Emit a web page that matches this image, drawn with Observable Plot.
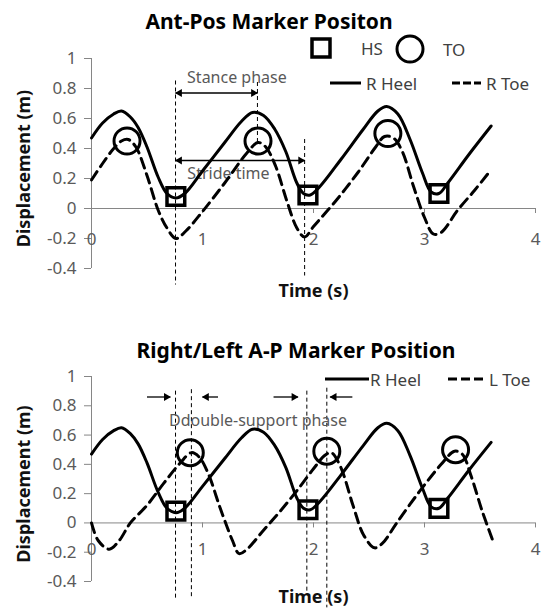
<!DOCTYPE html>
<html><head><meta charset="utf-8">
<script src="https://cdn.jsdelivr.net/npm/d3@7"></script>
<script src="https://cdn.jsdelivr.net/npm/@observablehq/plot@0.6"></script>
<style>
body{margin:0;background:#fff;font-family:"Noto Sans",sans-serif;}
#wrap{position:relative;width:542px;height:612px;overflow:hidden;background:#fff;}
.abs{position:absolute;}
.title{font-weight:bold;font-size:21px;color:#000;transform:translate(-50%,-50%);white-space:nowrap;}
.leg{font-size:17px;color:#404040;white-space:nowrap;transform:translateY(-50%);line-height:1;}
svg.plot{position:absolute;left:0;overflow:visible;}
</style></head><body><div id="wrap"></div>
<script>
// ---------- data ----------
const xTicks = [0, 1, 2, 3, 4];
const yTicks = [-0.4, -0.2, 0, 0.2, 0.4, 0.6, 0.8, 1];

// R Heel (same trace in both panels)
const heelT = [0, 0.1, 0.2, 0.27, 0.35, 0.42, 0.5, 0.6, 0.68, 0.76, 0.84, 1.0, 1.2, 1.35, 1.45, 1.55, 1.65, 1.75, 1.85, 1.91, 1.97, 2.05, 2.25, 2.45, 2.58, 2.66, 2.76, 2.87, 2.98, 3.06, 3.13, 3.21, 3.4, 3.6];
const heelY = [0.47, 0.57, 0.63, 0.65, 0.61, 0.54, 0.41, 0.21, 0.10, 0.07, 0.10, 0.25, 0.44, 0.58, 0.64, 0.62, 0.53, 0.38, 0.17, 0.10, 0.09, 0.14, 0.33, 0.53, 0.65, 0.68, 0.63, 0.46, 0.24, 0.11, 0.10, 0.17, 0.36, 0.55];

// R Toe (top panel)
const rToeT = [0, 0.1, 0.2, 0.27, 0.33, 0.4, 0.5, 0.6, 0.68, 0.76, 0.85, 1.0, 1.2, 1.4, 1.5, 1.57, 1.66, 1.76, 1.85, 1.92, 2.0, 2.2, 2.4, 2.56, 2.64, 2.72, 2.8, 2.9, 3.0, 3.08, 3.15, 3.3, 3.45, 3.58];
const rToeY = [0.19, 0.30, 0.40, 0.45, 0.46, 0.41, 0.22, -0.01, -0.13, -0.20, -0.15, -0.02, 0.17, 0.37, 0.44, 0.41, 0.28, 0.05, -0.13, -0.19, -0.12, 0.05, 0.24, 0.41, 0.48, 0.47, 0.38, 0.15, -0.06, -0.17, -0.16, -0.01, 0.12, 0.24];

// L Toe (bottom panel)
const lToeT = [0, 0.06, 0.16, 0.25, 0.35, 0.5, 0.65, 0.8, 0.9, 0.97, 1.05, 1.16, 1.27, 1.33, 1.4, 1.55, 1.7, 1.85, 2.0, 2.1, 2.16, 2.24, 2.36, 2.45, 2.55, 2.62, 2.75, 2.95, 3.15, 3.27, 3.34, 3.42, 3.52, 3.61];
const lToeY = [0, -0.12, -0.18, -0.12, 0, 0.12, 0.27, 0.41, 0.48, 0.45, 0.34, 0.10, -0.12, -0.21, -0.18, -0.05, 0.08, 0.22, 0.37, 0.46, 0.48, 0.39, 0.11, -0.08, -0.17, -0.14, 0, 0.21, 0.40, 0.49, 0.47, 0.32, 0.08, -0.11];

// Heel strike (HS) and toe off (TO) events
const hsT = [0.76, 1.95, 3.13];
const hsY = [0.08, 0.09, 0.10];
const toTopT = [0.32, 1.50, 2.67];
const toTopY = [0.45, 0.45, 0.50];
const toBotT = [0.89, 2.12, 3.28];
const toBotY = [0.48, 0.49, 0.50];

// dashed event lines
const evTopT = [0.757, 1.495, 1.92];
const evTopY1 = [0.85, 0.84, 0.46];
const evTopY2 = [-0.51, 0.42, -0.45];
const evBotT = [0.757, 0.90, 1.94, 2.12];
const evBotY1 = [0.90, 0.91, 0.90, 0.92];
const evBotY2 = [-0.52, -0.51, -0.49, -0.58];

// arrows
const arrTopFrom = [0.757, 0.757];
const arrTopTo = [1.495, 1.92];
const arrTopY = [0.77, 0.32];
const arrTopDouble = [true, true];
const arrBotFrom = [0.50, 1.14, 1.64, 2.35];
const arrBotTo = [0.71, 1.00, 1.86, 2.15];
const arrBotY = [0.86, 0.86, 0.86, 0.86];
const arrBotDouble = [false, false, false, false];

// annotation texts
const noteTop = ["Stance phase", "Stride time"];
const noteTopT = [1.31, 1.234];
const noteTopY = [0.87, 0.23];
const noteBot = ["Ddouble-support phase"];
const noteBotT = [1.5];
const noteBotY = [0.70];

// ---------- drawing ----------
const zip2 = (a, b) => a.map((t, i) => ({t, y: b[i]}));

function makePanel(o) {
  const heel = zip2(heelT, heelY);
  const toe = zip2(o.toeT, o.toeY);
  const hs = zip2(hsT, hsY);
  const to = zip2(o.toT, o.toY);
  const ev = o.evT.map((t, i) => ({t, y1: o.evY1[i], y2: o.evY2[i]}));
  const arrows = o.aFrom.map((f, i) => ({x1: f, x2: o.aTo[i], y: o.aY[i], dbl: o.aDbl[i]}));
  const heads = [];
  arrows.forEach(a => {
    const dir = Math.sign(a.x2 - a.x1);
    heads.push({t: a.x2, y: a.y, dir});
    if (a.dbl) heads.push({t: a.x1, y: a.y, dir: -dir});
  });
  const notes = o.notes.map((s, i) => ({s, t: o.noteT[i], y: o.noteY[i]}));
  const axisGrey = "#868686";
  return Plot.plot({
    width: 542, height: o.height,
    marginLeft: 91, marginRight: 7, marginTop: o.mt, marginBottom: o.mb,
    x: {domain: [0, 4], axis: null},
    y: {domain: [-0.4, 1], axis: null},
    style: {fontFamily: "Noto Sans", background: "transparent", overflow: "visible"},
    marks: [
      Plot.ruleX([0], {stroke: axisGrey, strokeWidth: 1}),
      Plot.ruleY([0], {stroke: axisGrey, strokeWidth: 1}),
      Plot.axisY(yTicks, {tickSize: 7, tickPadding: 8, tickFormat: d => String(d), fontSize: 17, fill: "#5a5a5a", stroke: axisGrey, label: null}),
      Plot.ruleX(xTicks.slice(1), {x: d => d, y1: 0, y2: 0, insetTop: 5, stroke: axisGrey}),
      Plot.text(xTicks, {x: d => d, y: 0, dy: o.xdy, text: d => String(d), fontSize: 17, fill: "#5a5a5a"}),
      Plot.text(["Displacement (m)"], {frameAnchor: "left", textAnchor: "middle", rotate: -90, dx: -67, dy: o.ldy, text: d => d, fontWeight: "bold", fontSize: 18, fill: "#111"}),
      Plot.text(["Time (s)"], {frameAnchor: "bottom", dy: o.tdy, text: d => d, fontWeight: "bold", fontSize: 18, fill: "#111"}),
      Plot.ruleX(ev, {x: "t", y1: "y1", y2: "y2", stroke: "#000", strokeWidth: 1, strokeDasharray: "4,3"}),
      Plot.text(notes, {x: "t", y: "y", text: "s", fontSize: 16, fill: "#595959"}),
      Plot.line(heel, {x: "t", y: "y", curve: "catmull-rom", stroke: "#000", strokeWidth: 3}),
      Plot.line(toe, {x: "t", y: "y", curve: "catmull-rom", stroke: "#000", strokeWidth: 3, strokeDasharray: "10,6"}),
      Plot.dot(hs, {x: "t", y: "y", symbol: "square", r: 10, stroke: "#000", strokeWidth: 3.5, fill: "none"}),
      Plot.dot(to, {x: "t", y: "y", r: 13, stroke: "#000", strokeWidth: 3, fill: "none"}),
      Plot.link(arrows, {x1: "x1", x2: "x2", y1: "y", y2: "y", stroke: "#000", strokeWidth: 1.3}),
      Plot.dot(heads.filter(h => h.dir > 0), {x: "t", y: "y", symbol: "triangle", r: 3, rotate: 90, dx: -4, fill: "#000", stroke: "none"}),
      Plot.dot(heads.filter(h => h.dir < 0), {x: "t", y: "y", symbol: "triangle", r: 3, rotate: -90, dx: 4, fill: "#000", stroke: "none"})
    ]
  });
}

const wrap = document.getElementById("wrap");

const topPanel = makePanel({height: 306, mt: 58, mb: 38, xdy: 31, tdy: 28, ldy: 5,
  toeT: rToeT, toeY: rToeY, toT: toTopT, toY: toTopY,
  evT: evTopT, evY1: evTopY1, evY2: evTopY2,
  aFrom: arrTopFrom, aTo: arrTopTo, aY: arrTopY, aDbl: arrTopDouble,
  notes: noteTop, noteT: noteTopT, noteY: noteTopY});
topPanel.classList.add("plot"); topPanel.style.top = "0px";
wrap.appendChild(topPanel);

const botPanel = makePanel({height: 306, mt: 70, mb: 31, xdy: 27, tdy: 21, ldy: 5,
  toeT: lToeT, toeY: lToeY, toT: toBotT, toY: toBotY,
  evT: evBotT, evY1: evBotY1, evY2: evBotY2,
  aFrom: arrBotFrom, aTo: arrBotTo, aY: arrBotY, aDbl: arrBotDouble,
  notes: noteBot, noteT: noteBotT, noteY: noteBotY});
botPanel.classList.add("plot"); botPanel.style.top = "306px";
wrap.appendChild(botPanel);

// titles
function addDiv(cls, text, x, y) {
  const d = document.createElement("div");
  d.className = "abs " + cls; d.textContent = text;
  d.style.left = x + "px"; d.style.top = y + "px";
  wrap.appendChild(d);
}
addDiv("title", "Ant-Pos Marker Positon", 269, 21);
addDiv("title", "Right/Left A-P Marker Position", 296, 350);

// legends
const NS = "http://www.w3.org/2000/svg";
function swatch(x, y, w, h, draw) {
  const s = document.createElementNS(NS, "svg");
  s.setAttribute("width", w); s.setAttribute("height", h);
  s.style.position = "absolute"; s.style.left = x + "px"; s.style.top = y + "px";
  s.innerHTML = draw;
  wrap.appendChild(s);
}
swatch(310, 37, 22, 22, '<rect x="2" y="2" width="18" height="18" fill="none" stroke="#000" stroke-width="3.5"/>');
addDiv("leg", "HS", 361, 48);
swatch(395, 34, 30, 30, '<circle cx="15" cy="15" r="13" fill="none" stroke="#000" stroke-width="3"/>');
addDiv("leg", "TO", 443, 49);
swatch(330, 79, 32, 8, '<line x1="0" y1="4" x2="31" y2="4" stroke="#000" stroke-width="3"/>');
addDiv("leg", "R Heel", 366, 83);
swatch(452, 79, 30, 8, '<line x1="0" y1="4" x2="29" y2="4" stroke="#000" stroke-width="3" stroke-dasharray="8,3"/>');
addDiv("leg", "R Toe", 486, 83);
swatch(325, 375, 45, 8, '<line x1="0" y1="4" x2="44" y2="4" stroke="#000" stroke-width="3"/>');
addDiv("leg", "R Heel", 370, 379);
swatch(448, 375, 40, 8, '<line x1="0" y1="4" x2="39" y2="4" stroke="#000" stroke-width="3" stroke-dasharray="9,4"/>');
addDiv("leg", "L Toe", 489, 379);
</script>
</body></html>
